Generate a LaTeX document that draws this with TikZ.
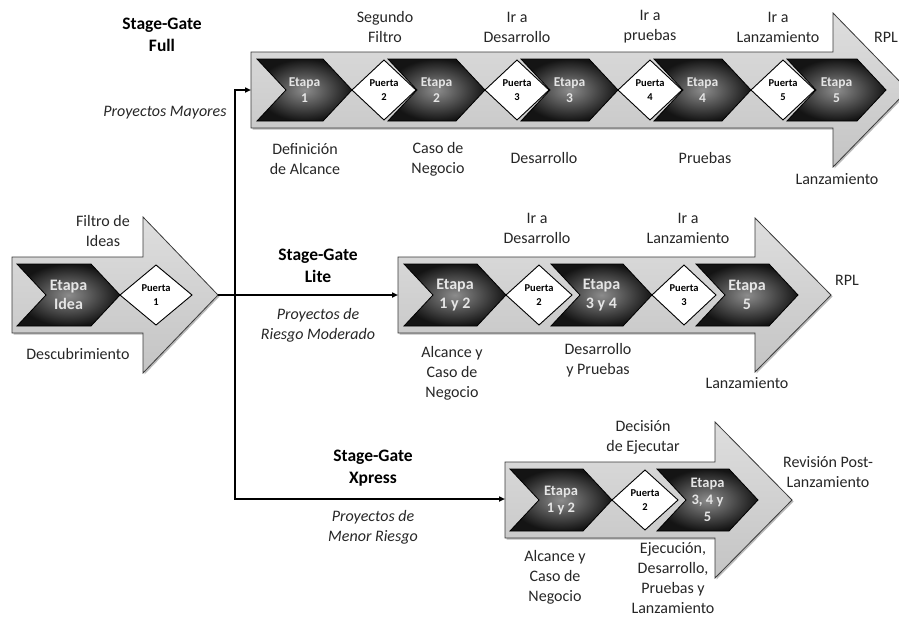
\documentclass[tikz,border=0pt]{standalone}
\usepackage{fontspec}
\setmainfont{Carlito}
\usetikzlibrary{arrows.meta,shadows}

\definecolor{ink}{HTML}{262626}
\definecolor{arrowfillA}{HTML}{DEDEDE}
\definecolor{arrowfillB}{HTML}{C4C4C4}
\definecolor{arrowline}{HTML}{3A3A3A}

\tikzset{
  bigarrow/.style={draw=arrowline, line width=0.8pt, top color=arrowfillA, bottom color=arrowfillB,
    drop shadow={shadow xshift=1.5pt, shadow yshift=-1.5pt, opacity=0.45, fill=black!60}},
  chevshape/.style={draw=black, line width=0.8pt, inner color=black!45, outer color=black!92},
  gateshape/.style={draw=black, line width=0.9pt, fill=white},
  stagetext/.style={text=white!90!black, font=\bfseries\fontsize{13.5}{16.5}\selectfont, align=center, inner sep=0pt},
  largestage/.style={stagetext/.append style={font=\bfseries\fontsize{16}{19.5}\selectfont}},
  gatetext/.style={text=black, font=\bfseries\fontsize{10.5}{14}\selectfont, align=center, inner sep=0pt},
  lbl/.style={text=ink, font=\fontsize{16}{20}\selectfont, align=center, inner sep=0pt},
  trackname/.style={text=black, font=\bfseries\fontsize{17.5}{22}\selectfont, align=center, inner sep=0pt},
  trackscope/.style={text=ink, font=\itshape\fontsize{16}{20}\selectfont, align=center, inner sep=0pt},
  conn/.style={line width=1.6pt, line join=miter, -{Triangle[length=6pt,width=5pt]}},
}

% big process arrow: left, head base, tip, middle y, body half height, head half height
\newcommand\processarrow[6]{%
  \path[bigarrow] ({#1},{#4-#5}) -- ({#2},{#4-#5}) -- ({#2},{#4-#6}) -- ({#3},{#4})
    -- ({#2},{#4+#6}) -- ({#2},{#4+#5}) -- ({#1},{#4+#5}) -- cycle;}

% stage chevron: name, left, tip, middle y, text
\newcommand\stagechev[5]{%
  \path[chevshape] ({#2},{#4-31}) -- ({#3-29},{#4-31}) -- ({#3},{#4}) -- ({#3-29},{#4+31})
    -- ({#2},{#4+31}) -- ({#2+29},{#4}) -- cycle;
  \node[stagetext] (#1) at ({(#2+#3)/2},{#4}) {#5};}

% gate diamond: name, centre x, centre y, half width, text
\newcommand\gatediamond[5]{%
  \path[gateshape] ({#2-#4},{#3}) -- ({#2},{#3-30}) -- ({#2+#4},{#3}) -- ({#2},{#3+30}) -- cycle;
  \node[gatetext] (#1) at ({#2},{#3}) {#5};}

\begin{document}
\begin{tikzpicture}[x=1pt,y=-1pt]
  \clip (0,0) rectangle (899,621);

  % ---------- arrows ----------
  \processarrow{12}{143}{218}{295}{38}{78}
  \processarrow{251}{833}{908}{90}{38}{77}
  \processarrow{398}{755}{831}{295}{38}{77}
  \processarrow{505}{715}{792}{500}{38}{78}

  % ---------- idea stage ----------
  \begin{scope}[largestage]
    \stagechev{sIdea}{17}{120}{295}{Etapa\\Idea}
  \end{scope}
  \gatediamond{gIdea}{156}{295}{36}{Puerta\\1}

  % ---------- Stage-Gate Full ----------
  \stagechev{sF1}{257}{352}{90}{Etapa\\1}
  \stagechev{sF2}{388}{485}{90}{Etapa\\2}
  \stagechev{sF3}{521}{618}{90}{Etapa\\3}
  \stagechev{sF4}{654}{751}{90}{Etapa\\4}
  \stagechev{sF5}{787}{886}{90}{Etapa\\5}
  \gatediamond{gF2}{384}{90}{32}{Puerta\\2}
  \gatediamond{gF3}{517}{90}{32}{Puerta\\3}
  \gatediamond{gF4}{650}{90}{32}{Puerta\\4}
  \gatediamond{gF5}{783}{90}{32}{Puerta\\5}

  % ---------- Stage-Gate Lite ----------
  \begin{scope}[largestage]
    \stagechev{sL1}{404}{506}{295}{Etapa\\1 y 2}
    \stagechev{sL2}{551}{652}{295}{Etapa\\3 y 4}
    \stagechev{sL3}{696}{798}{295}{Etapa\\5}
  \end{scope}
  \gatediamond{gL2}{539}{295}{33}{Puerta\\2}
  \gatediamond{gL3}{684}{295}{32}{Puerta\\3}

  % ---------- Stage-Gate Xpress ----------
  \begin{scope}[stagetext/.append style={font=\bfseries\fontsize{14.5}{17}\selectfont}]
    \stagechev{sX1}{510}{612}{500}{Etapa\\1 y 2}
    \stagechev{sX2}{657}{758}{500}{Etapa\\3, 4 y\\5}
  \end{scope}
  \gatediamond{gX2}{645}{500}{33}{Puerta\\2}

  % ---------- connectors ----------
  \coordinate (ideaTip) at (218,295);
  \coordinate (split) at (235,295);
  \coordinate (fullIn) at (251,90);
  \coordinate (liteIn) at (398,295);
  \coordinate (xpressIn) at (505,499);
  \draw[conn] (ideaTip) -- (liteIn);
  \draw[conn] (split) |- (fullIn);
  \draw[conn] (split) |- (xpressIn);

  % ---------- idea labels ----------
  \node[lbl] (tIdeaTop) at (103,231) {Filtro de\\Ideas};
  \node[lbl] (tIdeaBot) at (78,354) {Descubrimiento};

  % ---------- Full labels ----------
  \node[trackname] (nFull) at (162,35) {Stage-Gate\\Full};
  \node[trackscope] (pFull) at (165,113) {Proyectos Mayores};
  \node[lbl] (aF2) at (385,27) {Segundo\\Filtro};
  \node[lbl] (aF3) at (517,27) {Ir a\\Desarrollo};
  \node[lbl] (aF4) at (650,27) {Ir a\\pruebas};
  \node[lbl] (aF5) at (778,27) {Ir a\\Lanzamiento};
  \node[lbl, anchor=east] (aFend) at (898,37) {RPL};
  \node[lbl] (bF1) at (305,159) {Definición\\de Alcance};
  \node[lbl] (bF2) at (438,159) {Caso de\\Negocio};
  \node[lbl] (bF3) at (544,158) {Desarrollo};
  \node[lbl] (bF4) at (705,158) {Pruebas};
  \node[lbl] (bF5) at (837,179) {Lanzamiento};

  % ---------- Lite labels ----------
  \node[trackname] (nLite) at (318,266) {Stage-Gate\\Lite};
  \node[trackscope] (pLite) at (318,325) {Proyectos de\\Riesgo Moderado};
  \node[lbl] (aL2) at (537,228) {Ir a\\Desarrollo};
  \node[lbl] (aL3) at (688,228) {Ir a\\Lanzamiento};
  \node[lbl] (aLend) at (847,280) {RPL};
  \node[lbl] (bL1) at (452,373) {Alcance y\\Caso de\\Negocio};
  \node[lbl] (bL2) at (598,360) {Desarrollo\\y Pruebas};
  \node[lbl] (bL3) at (747,383) {Lanzamiento};

  % ---------- Xpress labels ----------
  \node[trackname] (nXpress) at (373,468) {Stage-Gate\\Xpress};
  \node[trackscope] (pXpress) at (373,527) {Proyectos de\\Menor Riesgo};
  \node[lbl] (aX2) at (643,437) {Decisión\\de Ejecutar};
  \node[lbl] (aXend) at (828,472) {Revisión Post-\\Lanzamiento};
  \node[lbl] (bX1) at (555,577) {Alcance y\\Caso de\\Negocio};
  \node[lbl] (bX2) at (673,578) {Ejecución,\\Desarrollo,\\Pruebas y\\Lanzamiento};
\end{tikzpicture}
\end{document}
